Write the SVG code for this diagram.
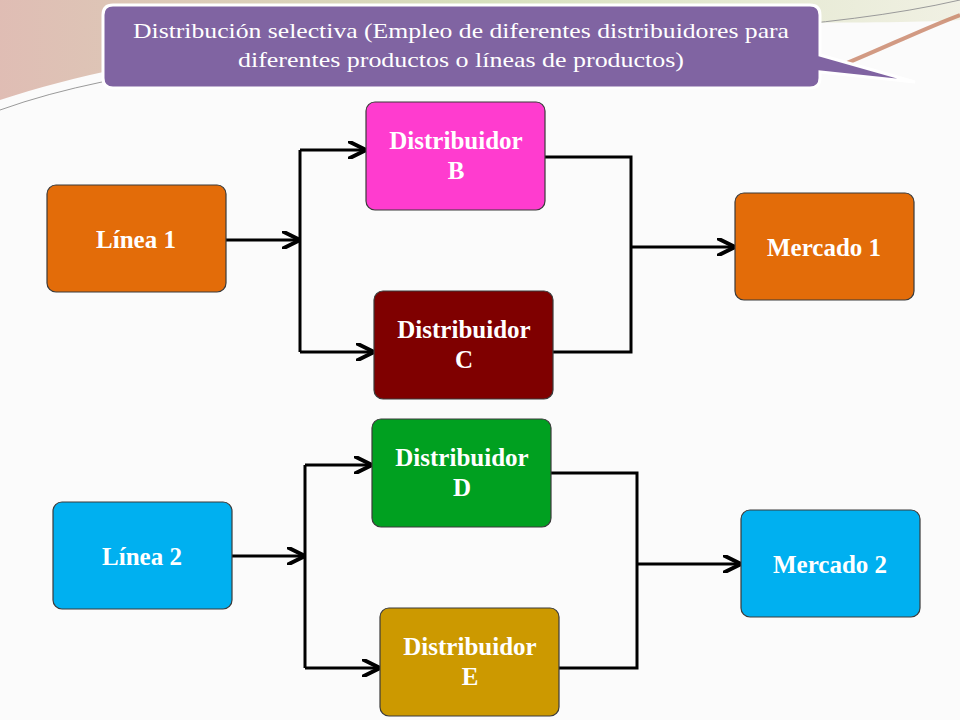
<svg xmlns="http://www.w3.org/2000/svg" width="960" height="720" viewBox="0 0 960 720">
<defs>
<style>
.n{stroke:#3a3a3a;stroke-width:1.2}
.t{font-family:"Liberation Serif",serif;font-size:25px;font-weight:bold;fill:#fff;text-anchor:middle}
.h{font-family:"Liberation Serif",serif;font-size:22px;fill:#fff;text-anchor:middle}
.c{fill:none;stroke:#000;stroke-width:3}
</style>
<marker id="a" markerWidth="6" markerHeight="6" refX="5" refY="3" orient="auto" markerUnits="strokeWidth"><path d="M0,0 L6,3 L0,6" fill="none" stroke="#000" stroke-width="1.3"/></marker>
<linearGradient id="g" x1="0" y1="0" x2="1" y2="0"><stop offset="0" stop-color="#c98a7a"/><stop offset="0.5" stop-color="#b9c98a"/><stop offset="1" stop-color="#e8e8d0"/></linearGradient>
</defs>
<rect width="960" height="720" fill="#fbfbfb"/>
<path d="M0,0 H960 V20 C800,30 300,0 0,100 Z" fill="url(#g)" opacity="0.55"/>
<path d="M0,110 C250,20 700,60 960,0" fill="none" stroke="#9a9a9a" stroke-width="1"/>
<path d="M830,70 C880,50 920,30 960,15" fill="none" stroke="#c07050" stroke-width="4" opacity="0.7"/>
<g id="title">
<path d="M113,5 H810 Q820,5 820,15 V55 L915,82 L820,72 V78 Q820,88 810,88 H113 Q103,88 103,78 V15 Q103,5 113,5 Z" fill="#8064A2" stroke="#fff" stroke-width="3"/>
<text class="h" x="461" y="38" textLength="656" lengthAdjust="spacingAndGlyphs">Distribución selectiva (Empleo de diferentes distribuidores para</text>
<text class="h" x="461" y="67" textLength="446" lengthAdjust="spacingAndGlyphs">diferentes productos o líneas de productos)</text>
</g>
<g id="connectors">
<path class="c" d="M226,240 H297" marker-end="url(#a)"/>
<path class="c" d="M300,150 V352"/>
<path class="c" d="M300,150 H363" marker-end="url(#a)"/>
<path class="c" d="M300,352 H371" marker-end="url(#a)"/>
<path class="c" d="M545,157 H631 V352 H553"/>
<path class="c" d="M631,247 H732" marker-end="url(#a)"/>
<path class="c" d="M232,556 H302" marker-end="url(#a)"/>
<path class="c" d="M305,465 V668"/>
<path class="c" d="M305,465 H369" marker-end="url(#a)"/>
<path class="c" d="M305,668 H377" marker-end="url(#a)"/>
<path class="c" d="M551,473 H637 V668 H559"/>
<path class="c" d="M637,564 H738" marker-end="url(#a)"/>
</g>
<g id="linea1"><rect class="n" x="47" y="185" width="179" height="107" rx="9" fill="#E36C09"/><text class="t" x="136" y="248">Línea 1</text></g>
<g id="distB"><rect class="n" x="366" y="102" width="179" height="108" rx="9" fill="#FF3CCF"/><text class="t" x="456" y="149">Distribuidor</text><text class="t" x="456" y="179">B</text></g>
<g id="distC"><rect class="n" x="374" y="291" width="179" height="108" rx="9" fill="#7F0000"/><text class="t" x="464" y="338">Distribuidor</text><text class="t" x="464" y="368">C</text></g>
<g id="mercado1"><rect class="n" x="735" y="193" width="179" height="107" rx="9" fill="#E36C09"/><text class="t" x="824" y="256">Mercado 1</text></g>
<g id="linea2"><rect class="n" x="53" y="502" width="179" height="107" rx="9" fill="#00B0F0"/><text class="t" x="142" y="565">Línea 2</text></g>
<g id="distD"><rect class="n" x="372" y="419" width="179" height="108" rx="9" fill="#00A020"/><text class="t" x="462" y="466">Distribuidor</text><text class="t" x="462" y="496">D</text></g>
<g id="distE"><rect class="n" x="380" y="608" width="179" height="108" rx="9" fill="#CC9900"/><text class="t" x="470" y="655">Distribuidor</text><text class="t" x="470" y="685">E</text></g>
<g id="mercado2"><rect class="n" x="741" y="510" width="179" height="107" rx="9" fill="#00B0F0"/><text class="t" x="830" y="573">Mercado 2</text></g>
</svg>
